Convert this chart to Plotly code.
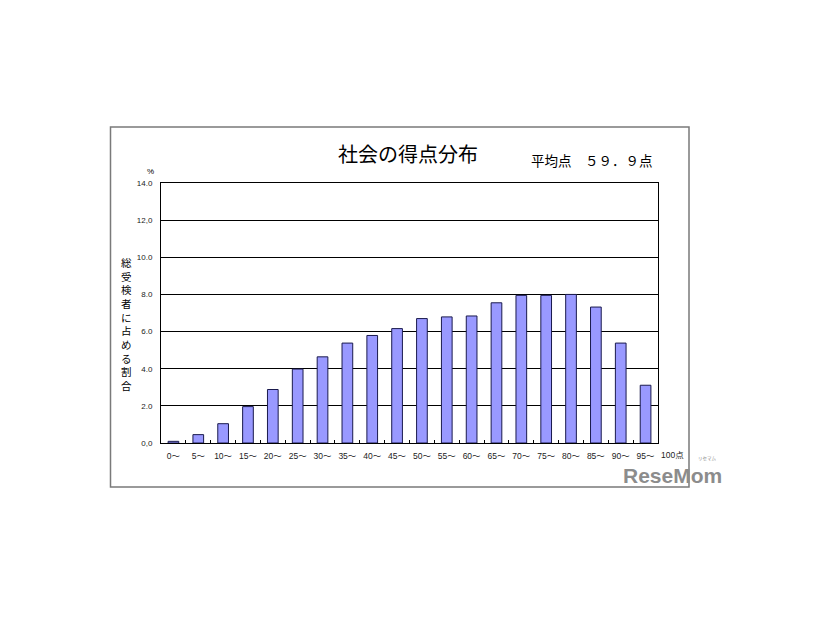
import plotly.graph_objects as go

categories = ["0～", "5～", "10～", "15～", "20～", "25～", "30～", "35～", "40～", "45～",
              "50～", "55～", "60～", "65～", "70～", "75～", "80～", "85～", "90～", "95～"]
percent = [0.09, 0.45, 1.04, 1.96, 2.88, 3.98, 4.64, 5.38, 5.79, 6.16,
           6.70, 6.79, 6.84, 7.55, 7.95, 7.95, 8.0, 7.32, 5.38, 3.11]
y_ticks = [0, 2, 4, 6, 8, 10, 12, 14]
title_text = "社会の得点分布"
avg_text = "平均点　５９．９点"
y_title = "総受検者に占める割合"

JP = "Noto Sans CJK JP"
LAT = "Liberation Sans, Noto Sans CJK JP"

# plot area in px (page has 8px body offset)
OFF = 8
L, R, T, B = 161 - OFF, 658 - OFF, 183 - OFF, 443 - OFF
W, H = 826, 620
def px(x):
    return (x - OFF - L) / (R - L)
def py(y):
    return (B - (y - OFF)) / (B - T)

fig = go.Figure()
fig.add_trace(go.Bar(
    x=categories, y=percent, width=0.43,
    marker=dict(color="#9999ff", line=dict(color="#1a1a4d", width=1)),
))

fig.update_layout(
    width=W, height=H,
    margin=dict(l=L, r=W - R, t=T, b=H - B, pad=0),
    paper_bgcolor="white", plot_bgcolor="white",
    showlegend=False, bargap=0.57,
    font=dict(family=LAT, color="#000"),
)
fig.update_xaxes(
    type="category", showgrid=False, showline=True, linecolor="#000", linewidth=1, mirror=True,
    ticks="inside", tickson="boundaries", ticklen=3, tickcolor="#000",
    tickfont=dict(size=8.5, family=LAT, color="#222"), tickangle=0, ticklabelstandoff=5,
    zeroline=False,
)
fig.update_yaxes(
    range=[0, 14], tickvals=y_ticks, ticktext=[f"{v:.1f}".replace(".", ",") if v in (0, 12) else f"{v:.1f}" for v in y_ticks],
    showgrid=True, gridcolor="#000", gridwidth=1,
    showline=True, linecolor="#000", linewidth=1, mirror=True,
    tickfont=dict(size=8, family=LAT, color="#222"), ticklabelstandoff=6, zeroline=False,
)

fig.add_shape(type="rect", xref="paper", yref="paper",
              x0=px(110.5), x1=px(689), y0=py(487), y1=py(127),
              line=dict(color="#7a7a7a", width=1.5), layer="below")

ann = [
    dict(text=title_text, x=px(408), y=py(153), font=dict(size=20, family=JP)),
    dict(text=avg_text, x=px(592), y=py(160), font=dict(size=13.5, family=JP)),
    dict(text="%", x=px(150), y=py(172), font=dict(size=8, family=LAT)),
    dict(text="<br>".join(list(y_title)), x=px(126), y=py(324), font=dict(size=10.5, family=JP)),
    dict(text="100点", x=px(672), y=py(455), font=dict(size=8.5, family=LAT, color="#222")),
    dict(text="<b>ReseMom</b>", x=px(672), y=py(475), font=dict(size=21, family="Liberation Sans", color="#8c8c8c")),
    dict(text="リセマム", x=px(707), y=py(458), font=dict(size=4.5, family=JP, color="#8c8c8c")),
]
for a in ann:
    fig.add_annotation(xref="paper", yref="paper", showarrow=False, xanchor="center", yanchor="middle", **a)

fig.write_html("out.html")
